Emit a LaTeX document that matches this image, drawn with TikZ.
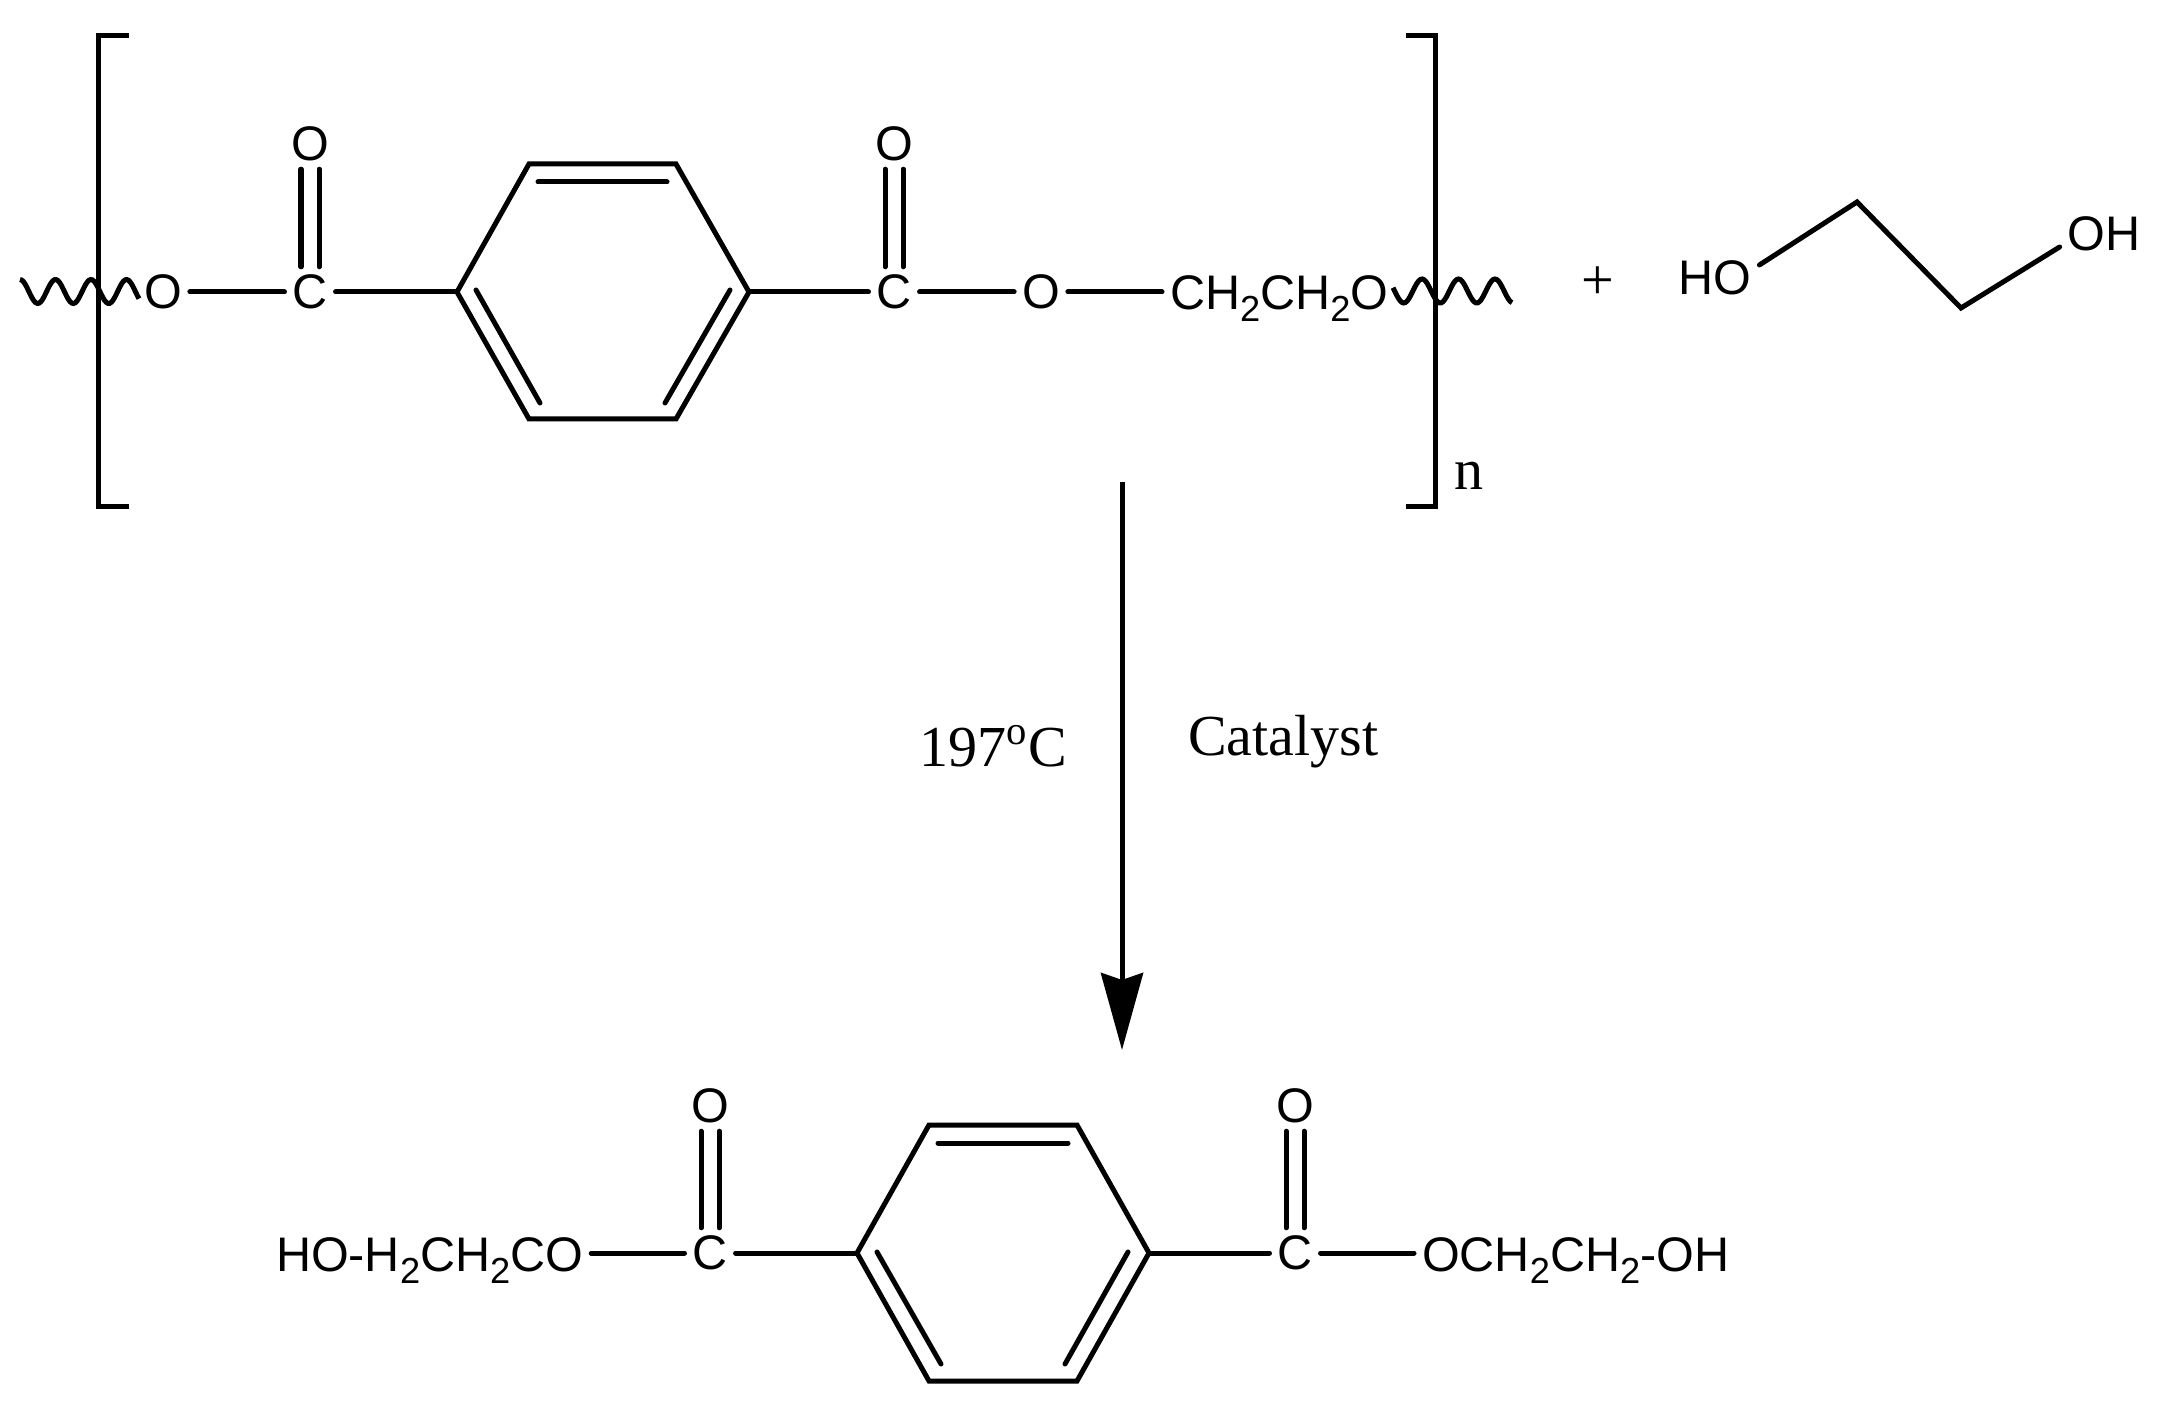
\documentclass[tikz,border=0pt]{standalone}
\usepackage{fontspec}
\setmainfont{Liberation Serif}
\setsansfont{Liberation Sans}
\usetikzlibrary{arrows.meta}
\newcommand{\subtwo}{\raisebox{-0.12cm}{\fontsize{10.3}{10}\selectfont 2}}
\tikzset{
    atom/.style={font=\sffamily\fontsize{13.8}{16}\selectfont, inner sep=0.08cm, outer sep=0pt},
    cond/.style={font=\rmfamily\fontsize{16.5}{20}\selectfont, inner sep=0pt, outer sep=0pt},
    bond/.style={line width=0.05cm, line cap=round, line join=miter},
    bracket/.style={line width=0.05cm, line join=miter},
    wave/.style={line width=0.05cm, smooth}
}
\begin{document}
\begin{tikzpicture}[x=0.01cm,y=-0.01cm]
            \useasboundingbox (0,0) rectangle (2164,1410);
            % polymer unit
            \coordinate (bl1) at (129,36);
            \coordinate (bl2) at (98,36);
            \coordinate (bl3) at (98,507);
            \coordinate (bl4) at (129,507);
            \coordinate (br1) at (1406,36);
            \coordinate (br2) at (1435,36);
            \coordinate (br3) at (1435,507);
            \coordinate (br4) at (1406,507);
            \draw[bracket] (bl1) -- (bl2) -- (bl3) -- (bl4);
            \draw[bracket] (br1) -- (br2) -- (br3) -- (br4);
            \draw[wave] plot[domain=20:139, samples=70] (\x,{291.5-12*cos(10.14*(\x-20))});
            \draw[wave] plot[domain=1393:1512, samples=70] (\x,{291-12*cos(9.863*(\x-1422))});
            \node[atom] (pO1) at (163,292) {O};
            \node[atom] (pC1) at (310,292) {C};
            \node[atom] (pO2) at (310,144) {O};
            \node[atom] (pC2) at (894,292) {C};
            \node[atom] (pO3) at (894,144) {O};
            \node[atom] (pO4) at (1041,292) {O};
            \node[atom, anchor=base west] (pchain) at (1162,310) {CH\subtwo CH\subtwo O};
            \node[cond, anchor=base west] (repeat) at (1454,490) {n};
            \coordinate (r1) at (457,292);
            \coordinate (r2) at (529,164);
            \coordinate (r3) at (676,164);
            \coordinate (r4) at (749,292);
            \coordinate (r5) at (676,419);
            \coordinate (r6) at (529,419);
            \coordinate (i1) at (538,182);
            \coordinate (i2) at (667,182);
            \coordinate (i3) at (476,290);
            \coordinate (i4) at (540,403);
            \coordinate (i5) at (730,290);
            \coordinate (i6) at (665,403);
            \draw[bond] (r1) -- (r2) -- (r3) -- (r4) -- (r5) -- (r6) -- cycle;
            \draw[bond] (i1) -- (i2);
            \draw[bond] (i3) -- (i4);
            \draw[bond] (i5) -- (i6);
            \draw[bond] (pO1) -- (pC1);
            \draw[bond] (pC1) -- (r1);
            \draw[bond] (r4) -- (pC2);
            \draw[bond] (pC2) -- (pO4);
            \draw[bond] (pO4) -- (pO4 -| pchain.west);
            \draw[bond] ([xshift=-0.09cm]pO2.south) -- ([xshift=-0.09cm]pC1.north);
            \draw[bond] ([xshift=0.09cm]pO2.south) -- ([xshift=0.09cm]pC1.north);
            \draw[bond] ([xshift=-0.09cm]pO3.south) -- ([xshift=-0.09cm]pC2.north);
            \draw[bond] ([xshift=0.09cm]pO3.south) -- ([xshift=0.09cm]pC2.north);
            % ethylene glycol
            \node[cond] (plus) at (1598,283) {+};
            \node[atom] (gHO) at (1715,278) {HO};
            \node[atom] (gOH) at (2104,234) {OH};
            \coordinate (g1) at (1857,202);
            \coordinate (g2) at (1961,308);
            \draw[bond] ([yshift=0.13cm]gHO.east) -- (g1) -- (g2) -- ([yshift=-0.13cm]gOH.west);
            % reaction arrow
            \coordinate (a1) at (1122,482);
            \coordinate (a2) at (1122,1050);
            \draw[line width=0.05cm, -{Stealth[length=0.77cm, width=0.42cm, inset=0.07cm]}] (a1) -- (a2);
            \node[cond, anchor=base west] (temp) at (919,767) {197\textsuperscript{o}C};
            \node[cond, anchor=base west] (cat) at (1188,756) {Catalyst};
            % product
            \node[atom, anchor=base west] (bleft) at (268,1271) {HO-H\subtwo CH\subtwo CO};
            \node[atom] (bC1) at (710,1253) {C};
            \node[atom] (bO1) at (710,1106) {O};
            \node[atom] (bC2) at (1295,1253) {C};
            \node[atom] (bO2) at (1295,1106) {O};
            \node[atom, anchor=base west] (bright) at (1414,1271) {OCH\subtwo CH\subtwo -OH};
            \coordinate (s1) at (857,1253);
            \coordinate (s2) at (929,1125);
            \coordinate (s3) at (1077,1125);
            \coordinate (s4) at (1149,1253);
            \coordinate (s5) at (1077,1381);
            \coordinate (s6) at (929,1381);
            \coordinate (k1) at (938,1143);
            \coordinate (k2) at (1068,1143);
            \coordinate (k3) at (877,1252);
            \coordinate (k4) at (941,1364);
            \coordinate (k5) at (1128,1252);
            \coordinate (k6) at (1065,1364);
            \draw[bond] (s1) -- (s2) -- (s3) -- (s4) -- (s5) -- (s6) -- cycle;
            \draw[bond] (k1) -- (k2);
            \draw[bond] (k3) -- (k4);
            \draw[bond] (k5) -- (k6);
            \draw[bond] (bC1 -| bleft.east) -- (bC1);
            \draw[bond] (bC1) -- (s1);
            \draw[bond] (s4) -- (bC2);
            \draw[bond] (bC2) -- (bC2 -| bright.west);
            \draw[bond] ([xshift=-0.09cm]bO1.south) -- ([xshift=-0.09cm]bC1.north);
            \draw[bond] ([xshift=0.09cm]bO1.south) -- ([xshift=0.09cm]bC1.north);
            \draw[bond] ([xshift=-0.09cm]bO2.south) -- ([xshift=-0.09cm]bC2.north);
            \draw[bond] ([xshift=0.09cm]bO2.south) -- ([xshift=0.09cm]bC2.north);
        \end{tikzpicture}
\end{document}
